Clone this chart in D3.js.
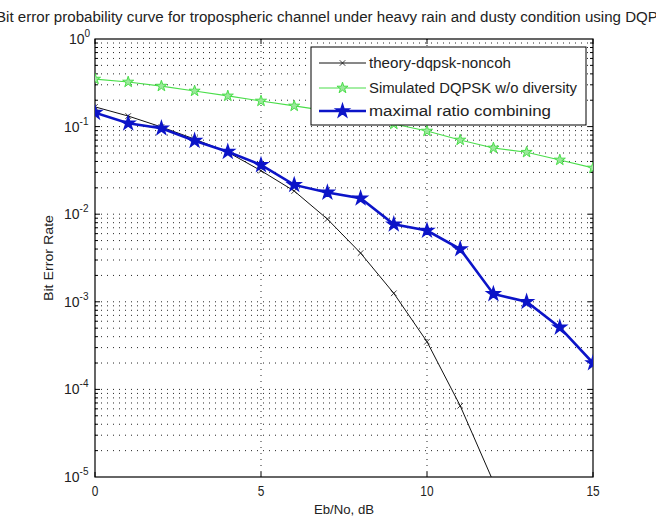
<!DOCTYPE html>
<html><head><meta charset="utf-8">
<script src="https://cdn.jsdelivr.net/npm/d3@7"></script>
<style>body{margin:0;background:#fff}svg{display:block}text{font-family:"Liberation Sans",Arial,sans-serif;fill:#222}</style>
</head><body><div id="c"></div>
<script>
const ebno = [0,1,2,3,4,5,6,7,8,9,10,11,12,13,14,15];
const theoryX = [0,1,2,3,4,5,6,7,8,9,10,11,12];
const theory = [0.168,0.132,0.099,0.072,0.051,0.0314,0.0184,0.0088,0.0036,0.00125,0.00035,0.000065,0.0000088];
const simulated = [0.349,0.323,0.29,0.255,0.224,0.196,0.172,0.151,0.129,0.107,0.089,0.0703,0.057,0.051,0.0416,0.0337];
const mrc = [0.144,0.109,0.0957,0.069,0.0517,0.0365,0.0216,0.0177,0.0152,0.00767,0.0065,0.0040,0.00123,0.0010,0.00051,0.0002];
const xTicks = [0,5,10,15];
const yExps = [0,-1,-2,-3,-4,-5];
const seriesNames = ["theory-dqpsk-noncoh","Simulated DQPSK w/o diversity","maximal ratio combining"];
const titleText = "Bit error probability curve for tropospheric channel under heavy rain and dusty condition using DQPSK";

const W=656,H=522;
const m={l:95,r:63,t:39,b:45};
const svg=d3.select("#c").append("svg").attr("width",W).attr("height",H);
const x=d3.scaleLinear().domain([0,15]).range([m.l,W-m.r]);
const y=d3.scaleLog().domain([1e-5,1]).range([H-m.b,m.t]);
const pw=W-m.r-m.l, ph=H-m.b-m.t;

const defs=svg.append("defs");
defs.append("clipPath").attr("id","clip").append("rect").attr("x",m.l).attr("y",m.t).attr("width",pw).attr("height",ph);

// grid
const minor=[];
for(let e=-5;e<0;e++){for(let k=1;k<10;k++){minor.push(k*Math.pow(10,e));}}
minor.push(1);
const g=svg.append("g");
g.selectAll("line.hg").data(minor.filter(v=>v>1e-5&&v<1)).join("line")
 .attr("x1",m.l).attr("x2",W-m.r).attr("y1",d=>y(d)).attr("y2",d=>y(d))
 .attr("stroke","#000").attr("stroke-width",1).attr("stroke-dasharray","1,5").attr("opacity",0.85);
g.selectAll("line.vg").data(xTicks.filter(v=>v>0&&v<15)).join("line")
 .attr("x1",d=>x(d)).attr("x2",d=>x(d)).attr("y1",m.t).attr("y2",H-m.b)
 .attr("stroke","#000").attr("stroke-width",1).attr("stroke-dasharray","1,5").attr("opacity",0.85);

// ticks (inner)
const tk=svg.append("g").attr("stroke","#000").attr("stroke-width",1);
minor.filter(v=>v>1e-5&&v<1).forEach(v=>{
  const isMajor=Math.abs(Math.log10(v)-Math.round(Math.log10(v)))<1e-9;
  const L=isMajor?5:3;
  tk.append("line").attr("x1",m.l).attr("x2",m.l+L).attr("y1",y(v)).attr("y2",y(v));
  tk.append("line").attr("x1",W-m.r).attr("x2",W-m.r-L).attr("y1",y(v)).attr("y2",y(v));
});
xTicks.forEach(v=>{
  tk.append("line").attr("x1",x(v)).attr("x2",x(v)).attr("y1",H-m.b).attr("y2",H-m.b-5);
  tk.append("line").attr("x1",x(v)).attr("x2",x(v)).attr("y1",m.t).attr("y2",m.t+5);
});
svg.append("rect").attr("x",m.l).attr("y",m.t).attr("width",pw).attr("height",ph).attr("fill","none").attr("stroke","#000").attr("stroke-width",1.2);

// tick labels
xTicks.forEach(v=>{
  svg.append("text").attr("x",x(v)).attr("y",H-m.b+19).attr("text-anchor","middle").attr("font-size",14)
   .attr("transform",`translate(${x(v)},0) scale(0.85,1) translate(${-x(v)},0)`).text(v);
});
yExps.forEach(e=>{
  const t=svg.append("text").attr("x",m.l-5).attr("y",y(Math.pow(10,e))+5).attr("text-anchor","end").attr("font-size",14);
  t.append("tspan").text("10");
  t.append("tspan").attr("dy",-7).attr("font-size",10).text(e);
  t.attr("text-anchor","start").attr("x",m.l-(e<0?31:26));
});

// axis labels
svg.append("text").attr("x",x(7.5)).attr("y",H-8).attr("text-anchor","middle").attr("font-size",13)
 .attr("textLength",60).attr("lengthAdjust","spacingAndGlyphs").text("Eb/No, dB");
svg.append("text").attr("transform",`translate(53,${(m.t+H-m.b)/2}) rotate(-90)`).attr("text-anchor","middle").attr("font-size",13)
 .attr("textLength",86).attr("lengthAdjust","spacingAndGlyphs").text("Bit Error Rate");
svg.append("text").attr("x",-4).attr("y",22).attr("text-anchor","start").attr("font-size",14)
 .attr("textLength",682).attr("lengthAdjust","spacingAndGlyphs").text(titleText);

// series
const pg=svg.append("g").attr("clip-path","url(#clip)");
const line=d3.line().x(d=>x(d[0])).y(d=>y(d[1]));
const green="#4ade4a", blue="#0c14c8";
const tData=theoryX.map((v,i)=>[v,theory[i]]);
const sData=ebno.map((v,i)=>[v,simulated[i]]);
const mData=ebno.map((v,i)=>[v,mrc[i]]);
pg.append("path").datum(tData).attr("d",line).attr("fill","none").attr("stroke","#111").attr("stroke-width",1);
pg.append("path").datum(sData).attr("d",line).attr("fill","none").attr("stroke",green).attr("stroke-width",1.2);
pg.append("path").datum(mData).attr("d",line).attr("fill","none").attr("stroke",blue).attr("stroke-width",2.6);
const cross=d3.symbol().type(d3.symbolX).size(22);
const star=d3.symbol().type(d3.symbolStar);
pg.selectAll("path.tm").data(tData).join("path").attr("transform",d=>`translate(${x(d[0])},${y(d[1])})`)
 .attr("d",cross).attr("fill","none").attr("stroke","#111").attr("stroke-width",0.8);
pg.selectAll("path.sm").data(sData).join("path").attr("transform",d=>`translate(${x(d[0])},${y(d[1])})`)
 .attr("d",star.size(38)()).attr("fill","#9be89b").attr("stroke",green).attr("stroke-width",1);
pg.selectAll("path.mm").data(mData).join("path").attr("transform",d=>`translate(${x(d[0])},${y(d[1])})`)
 .attr("d",star.size(52)()).attr("fill",blue).attr("stroke",blue).attr("stroke-width",1.5);

// legend
const lg=svg.append("g");
lg.append("rect").attr("x",311).attr("y",47).attr("width",275).attr("height",78).attr("fill","#fff").attr("stroke","#000").attr("stroke-width",1);
const ly=[63,88,111];
const styles=[{c:"#111",w:1,mk:"x"},{c:green,w:1.2,mk:"s"},{c:blue,w:2.6,mk:"b"}];
seriesNames.forEach((n,i)=>{
  const s=styles[i];
  lg.append("line").attr("x1",319).attr("x2",366).attr("y1",ly[i]).attr("y2",ly[i]).attr("stroke",s.c).attr("stroke-width",s.w);
  const mk=lg.append("path").attr("transform",`translate(342.5,${ly[i]})`);
  if(s.mk==="x") mk.attr("d",cross).attr("fill","none").attr("stroke","#111").attr("stroke-width",0.8);
  else if(s.mk==="s") mk.attr("d",star.size(38)()).attr("fill","#9be89b").attr("stroke",green);
  else mk.attr("d",star.size(52)()).attr("fill",blue).attr("stroke",blue).attr("stroke-width",1.5);
  const tl=[142,208,182][i];
  lg.append("text").attr("x",369).attr("y",ly[i]+5).attr("font-size",14)
   .attr("textLength",tl).attr("lengthAdjust","spacingAndGlyphs").text(n);
});
</script></body></html>
